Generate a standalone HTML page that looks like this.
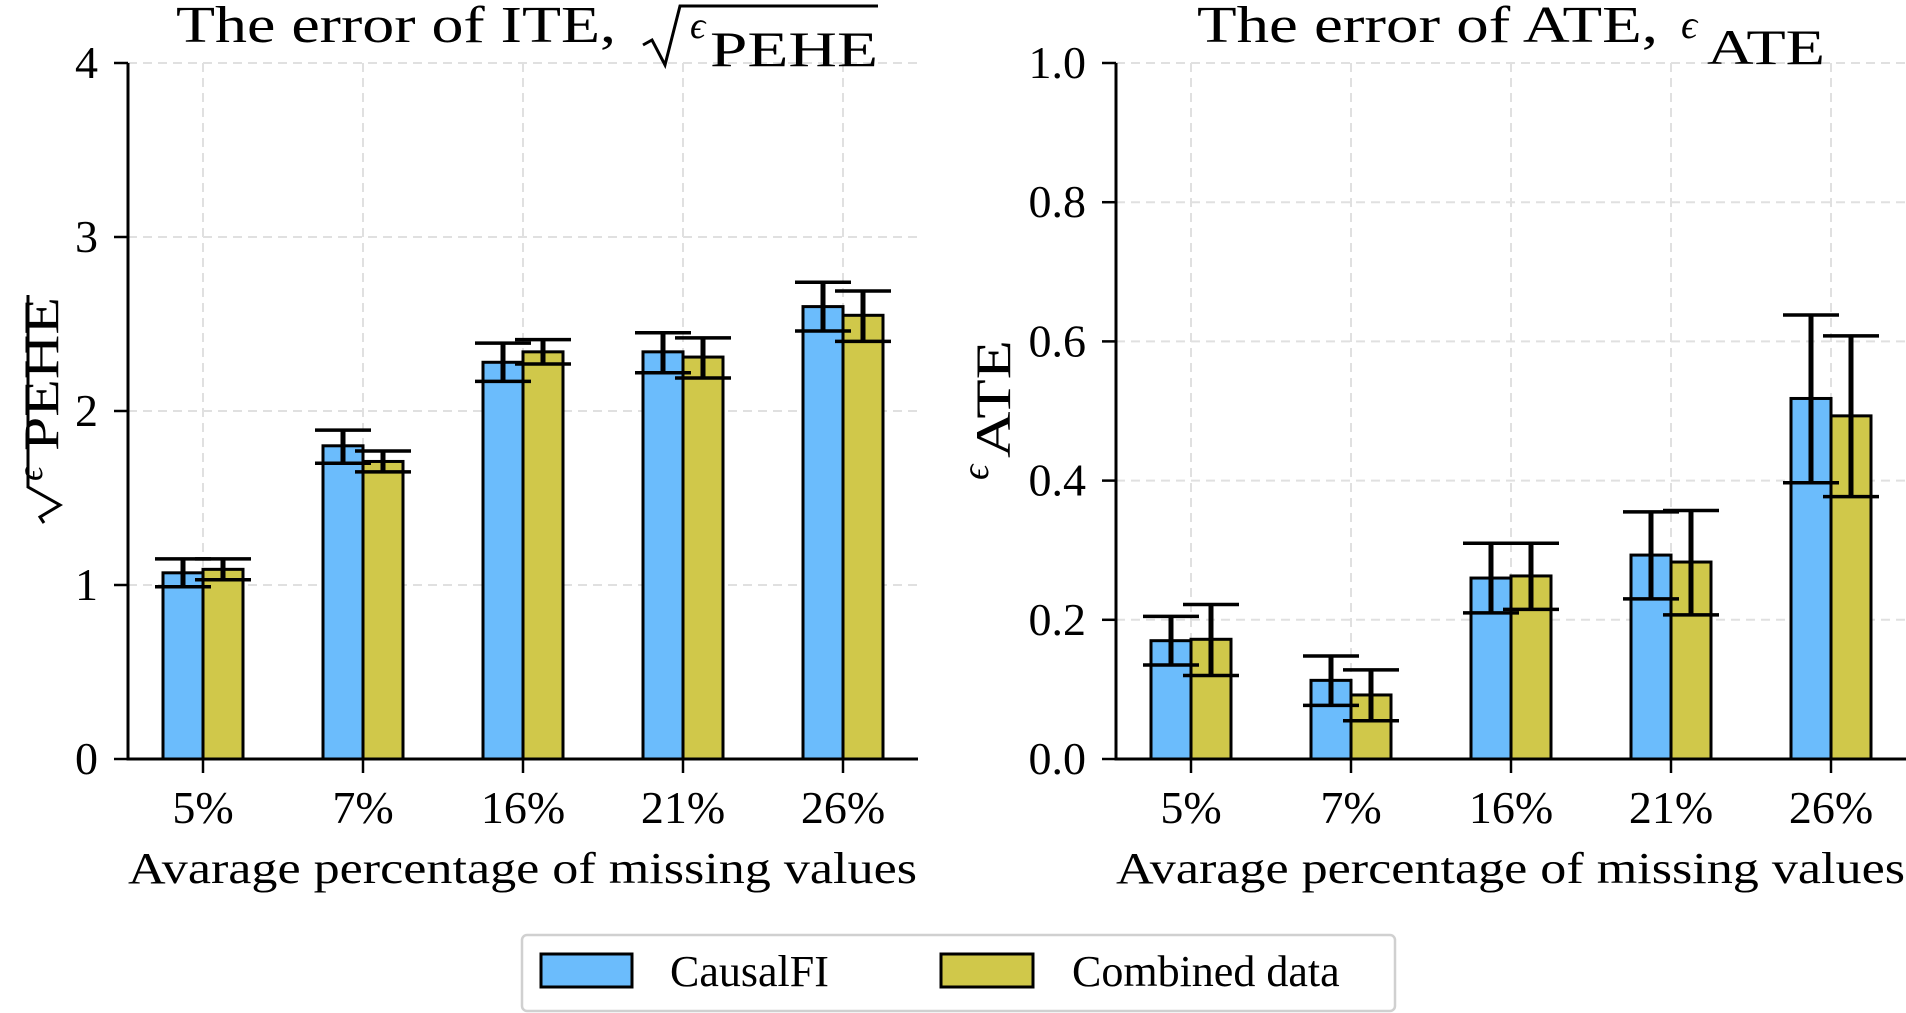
<!DOCTYPE html>
<html><head><meta charset="utf-8"><style>
html,body{margin:0;padding:0;background:#fff;}
svg{display:block;font-family:"Liberation Serif",serif;}
</style></head><body>
<svg id="chart" width="1906" height="1013" viewBox="0 0 1906 1013" xmlns="http://www.w3.org/2000/svg">
<g id="left"></g>
<g id="right"></g>
<g>
  <rect x="522" y="935" width="873" height="76" rx="5" fill="#fff" stroke="#d0d0d0" stroke-width="2.5"/>
  <g>
    <rect x="541" y="954" width="91" height="33" fill="#6bbcfc" stroke="#000" stroke-width="3"/>
    <text x="670" y="986" font-size="44">CausalFI</text>
  </g>
  <g>
    <rect x="941" y="954" width="92" height="33" fill="#d0c84a" stroke="#000" stroke-width="3"/>
    <text x="1072" y="986" font-size="44">Combined data</text>
  </g>
</g>
</svg>
<script>
const categories = ["5%","7%","16%","21%","26%"];
const iteCausal = [1.07,1.80,2.28,2.34,2.60];
const iteCausalLo = [0.99,1.70,2.17,2.22,2.46];
const iteCausalHi = [1.15,1.89,2.39,2.45,2.74];
const iteCombined = [1.09,1.71,2.34,2.31,2.55];
const iteCombinedLo = [1.03,1.65,2.27,2.19,2.40];
const iteCombinedHi = [1.15,1.77,2.41,2.42,2.69];
const iteTicks = [0,1,2,3,4];
const iteTickLabels = ["0","1","2","3","4"];
const ateCausal = [0.170,0.113,0.260,0.293,0.518];
const ateCausalLo = [0.135,0.077,0.210,0.230,0.397];
const ateCausalHi = [0.205,0.148,0.310,0.355,0.638];
const ateCombined = [0.172,0.092,0.263,0.283,0.493];
const ateCombinedLo = [0.120,0.055,0.215,0.207,0.377];
const ateCombinedHi = [0.222,0.128,0.310,0.357,0.608];
const ateTicks = [0,0.2,0.4,0.6,0.8,1.0];
const ateTickLabels = ["0.0","0.2","0.4","0.6","0.8","1.0"];

const NS="http://www.w3.org/2000/svg";
function mk(parent,tag,attrs,text){const e=document.createElementNS(NS,tag);for(const k in attrs)e.setAttribute(k,attrs[k]);if(text!==undefined)e.textContent=text;parent.appendChild(e);return e;}

function panel(g,x0,ymax,ticks,tickLabels,s1,s1lo,s1hi,s2,s2lo,s2hi){
  const y0=759,yTop=63,w=790,step=160,first=75,bw=40;
  const sy=v=>y0-(v/ymax)*(y0-yTop);
  const sx=i=>x0+first+i*step;
  ticks.forEach((t,i)=>{
    const l=mk(g,'line',{x1:x0,x2:x0+w,y1:sy(t),y2:sy(t),stroke:'#e0e0e0','stroke-width':2,'stroke-dasharray':'9,6'});
    
    
    const tk=mk(g,'line',{x1:x0-14,x2:x0,y1:sy(t),y2:sy(t),stroke:'#000','stroke-width':2.5});
    
    
    const tl=mk(g,'text',{x:x0-30,y:sy(t)+15,'font-size':46,'text-anchor':'end'},tickLabels[i]);
    
    
  });
  categories.forEach((c,i)=>{
    const l=mk(g,'line',{x1:sx(i),x2:sx(i),y1:yTop,y2:y0,stroke:'#e0e0e0','stroke-width':2,'stroke-dasharray':'9,6'});
    
    
  });
  const series=[[s1,s1lo,s1hi,'#6bbcfc',-1,'causalfi'],[s2,s2lo,s2hi,'#d0c84a',0,'combined']];
  series.forEach(([v,lo,hi,col,off,nm])=>{
    v.forEach((val,i)=>{
      const b=mk(g,'rect',{x:sx(i)+off*bw,y:sy(val),width:bw,height:y0-sy(val),fill:col,stroke:'#000','stroke-width':3});
      
      
    });
  });
  series.forEach(([v,lo,hi,col,off,nm])=>{
    v.forEach((val,i)=>{
      const cx=sx(i)+off*bw+bw/2;
      const e=mk(g,'g',{});
      
      
      mk(e,'line',{x1:cx,x2:cx,y1:sy(lo[i]),y2:sy(hi[i]),stroke:'#000','stroke-width':5});
      mk(e,'line',{x1:cx-28,x2:cx+28,y1:sy(lo[i]),y2:sy(lo[i]),stroke:'#000','stroke-width':3.5});
      mk(e,'line',{x1:cx-28,x2:cx+28,y1:sy(hi[i]),y2:sy(hi[i]),stroke:'#000','stroke-width':3.5});
    });
  });
  categories.forEach((c,i)=>{
    const tk=mk(g,'line',{x1:sx(i),x2:sx(i),y1:y0,y2:y0+14,stroke:'#000','stroke-width':2.5});
    
    
    const tl=mk(g,'text',{x:sx(i),y:823,'font-size':46,'text-anchor':'middle'},c);
    
    
  });
  const ax=mk(g,'path',{d:`M${x0},${yTop} V${y0} H${x0+w}`,fill:'none',stroke:'#000','stroke-width':3});
  
  
  const xl=mk(g,'text',{x:x0,y:883,'font-size':44,textLength:789,lengthAdjust:'spacingAndGlyphs'},'Avarage percentage of missing values');
  
  
}
const L=document.getElementById('left'),R=document.getElementById('right');
panel(L,128,4,iteTicks,iteTickLabels,iteCausal,iteCausalLo,iteCausalHi,iteCombined,iteCombinedLo,iteCombinedHi);
panel(R,1116,1,ateTicks,ateTickLabels,ateCausal,ateCausalLo,ateCausalHi,ateCombined,ateCombinedLo,ateCombinedHi);

let t=mk(L,'text',{x:176,y:42,'font-size':52,textLength:440,lengthAdjust:'spacingAndGlyphs'},'The error of ITE,');


mk(L,'path',{d:'M643,45 L652,40 L665,65 L680,6 L878,6',fill:'none',stroke:'#000','stroke-width':3});
mk(L,'text',{x:690,y:38,'font-size':38,'font-style':'italic'},'ϵ');
mk(L,'text',{x:710,y:66,'font-size':50,textLength:168,lengthAdjust:'spacingAndGlyphs'},'PEHE');
t=mk(R,'text',{x:1197,y:42,'font-size':52,textLength:461,lengthAdjust:'spacingAndGlyphs'},'The error of ATE,');


mk(R,'text',{x:1681,y:38,'font-size':40,'font-style':'italic'},'ϵ');
mk(R,'text',{x:1707,y:64,'font-size':50,textLength:118,lengthAdjust:'spacingAndGlyphs'},'ATE');

let yl=mk(L,'g',{transform:'translate(58,523) rotate(-90)'});


mk(yl,'path',{d:'M0,-14 L6,-18 L18,2 L36,-30 L228,-30',fill:'none',stroke:'#000','stroke-width':3});
mk(yl,'text',{x:42,y:-16,'font-size':36,'font-style':'italic'},'ϵ');
mk(yl,'text',{x:72,y:0,'font-size':50,textLength:154,lengthAdjust:'spacingAndGlyphs'},'PEHE');
let yr=mk(R,'g',{transform:'translate(1010,480) rotate(-90)'});


mk(yr,'text',{x:0,y:-22,'font-size':38,'font-style':'italic'},'ϵ');
mk(yr,'text',{x:22,y:0,'font-size':50,textLength:118,lengthAdjust:'spacingAndGlyphs'},'ATE');
</script>
</body></html>
